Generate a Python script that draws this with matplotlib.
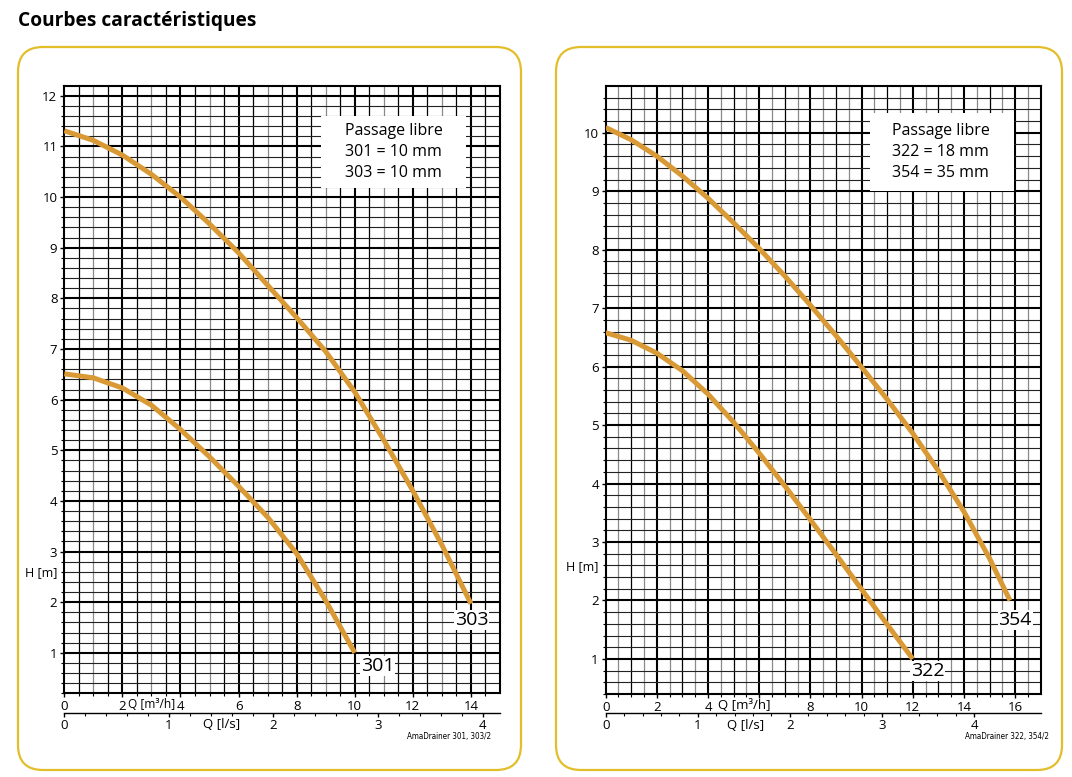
import numpy as np
import matplotlib
matplotlib.use("Agg")
import matplotlib.pyplot as plt
from matplotlib.patches import FancyBboxPatch, Rectangle

plt.rcParams['font.family'] = ['Open Sans', 'DejaVu Sans']

# curve data, Q in m3/h, H in m
q_303 = [0, 1, 2, 3, 4, 5, 6, 7, 8, 9, 10, 11, 12, 13, 14]
h_303 = [11.31, 11.12, 10.83, 10.45, 10.0, 9.47, 8.9, 8.26, 7.62, 6.95, 6.15, 5.2, 4.2, 3.13, 1.97]
q_301 = [0, 1, 2, 3, 4, 5, 6, 7, 8, 9, 10]
h_301 = [6.51, 6.43, 6.23, 5.89, 5.41, 4.87, 4.29, 3.68, 2.96, 2.03, 1.0]
q_322 = [0, 1, 2, 3, 4, 5, 6, 7, 8, 9, 10, 11, 12]
h_322 = [6.58, 6.45, 6.23, 5.93, 5.53, 5.05, 4.52, 3.96, 3.38, 2.79, 2.19, 1.59, 1.0]
q_354 = [0, 1, 2, 3, 4, 5, 6, 7, 8, 9, 10, 11, 12, 13, 14, 15, 15.8]
h_354 = [10.09, 9.88, 9.6, 9.26, 8.88, 8.46, 8.02, 7.55, 7.05, 6.53, 5.99, 5.44, 4.86, 4.22, 3.52, 2.72, 2.0]

left_box_lines = ["Passage libre", "301 = 10 mm", "303 = 10 mm"]
right_box_lines = ["Passage libre", "322 = 18 mm", "354 = 35 mm"]
left_xticklabels = ["0", "2", "4", "6", "8", "10", "12", "14"]
right_xticklabels = ["0", "2", "4", "", "8", "10", "12", "14", "16"]
ls_ticklabels = ["0", "1", "2", "3", "4"]

CURVE = '#D99A36'
PANEL = '#E3BE2B'
GRAY = '#8a8a8a'


def draw_grid(ax, xmax, ymin, ymax, odd_gray):
    # vertical lines every 0.5 m3/h
    for x in np.arange(0.5, xmax, 0.5):
        if x % 2 == 0:
            ax.axvline(x, color='black', lw=1.5, zorder=1)
        elif x % 1 == 0:
            ax.axvline(x, color=GRAY if odd_gray else 'black', lw=0.9, zorder=1)
        else:
            ax.axvline(x, color='black' if odd_gray else GRAY, lw=0.9, zorder=1)
    # horizontal lines every 0.2 m
    for y in np.arange(ymin + 0.2, ymax - 0.01, 0.2):
        y = round(y, 1)
        if abs(y - round(y)) < 1e-6:
            ax.axhline(y, color='black', lw=1.5, zorder=1)
        else:
            ax.axhline(y, color='#222222', lw=0.8, zorder=1)


def setup_axes(ax, xmax, ymin, ymax, xlabels, ymax_label, odd_gray, sec_loc):
    ax.set_xlim(0, xmax)
    ax.set_ylim(ymin, ymax)
    draw_grid(ax, xmax, ymin, ymax, odd_gray)
    for s in ax.spines.values():
        s.set_linewidth(1.5)
    ax.set_xticks(np.arange(0, 2 * len(xlabels), 2))
    ax.set_xticklabels(xlabels)
    ax.set_xticks(np.arange(0, xmax, 0.5), minor=True)
    ax.set_yticks(np.arange(1, ymax_label + 1))
    ax.set_yticks(np.arange(ymin, ymax, 0.2), minor=True)
    ax.tick_params(which='major', direction='out', length=3, width=1, labelsize=9.5, pad=2)
    ax.tick_params(which='minor', direction='out', length=2, width=0.8)
    sec = ax.secondary_xaxis(sec_loc, functions=(lambda q: q / 3.6, lambda l: l * 3.6))
    sec.set_xticks(range(len(ls_ticklabels)))
    sec.set_xticklabels(ls_ticklabels)
    sec.set_xticks(np.arange(0, 4.01, 0.2), minor=True)
    sec.tick_params(which='major', direction='out', length=3, width=1, labelsize=9.5, pad=1)
    sec.tick_params(which='minor', direction='out', length=2, width=0.8)
    sec.spines['bottom'].set_linewidth(1.0)
    return sec


def draw_curve(ax, q, h):
    ax.plot(q, h, color=CURVE, lw=3.6, solid_capstyle='butt', solid_joinstyle='round', zorder=3)


def curve_label(ax, x, y, s):
    ax.text(x, y, s, ha='center', va='center', fontsize=14, zorder=5,
            bbox=dict(facecolor='white', edgecolor='none', pad=0.5))


fig = plt.figure(figsize=(10.72, 7.77), dpi=100)

# rounded panels
for x0, w in ((0.18, 5.03), (5.56, 5.06)):
    fig.patches.append(FancyBboxPatch((x0, 0.07), w, 7.23, boxstyle="round,pad=0,rounding_size=0.25",
                                      transform=fig.dpi_scale_trans, fill=False,
                                      edgecolor=PANEL, lw=1.6))

fig.text(18 / 1072, 1 - 21 / 777, "Courbes caractéristiques", fontsize=13.8, fontweight='bold',
         va='center', ha='left')

# left chart
ax1 = fig.add_axes([0.06, 0.1077, 0.4064, 0.782])
setup_axes(ax1, 15, 0.2, 12.2, left_xticklabels, 12, True, -0.033)
draw_curve(ax1, q_303, h_303)
draw_curve(ax1, q_301, h_301)
ax1.add_patch(Rectangle((8.84, 10.18), 5.0, 1.42, facecolor='white', edgecolor='none', zorder=4))
ax1.text(11.34, 10.89, "\n".join(left_box_lines), ha='center', va='center', fontsize=11.5,
         linespacing=1.45, zorder=5)
curve_label(ax1, 14.03, 1.65, "303")
curve_label(ax1, 10.79, 0.74, "301")
ax1.text(3.02, -0.019, "Q [m³/h]", transform=ax1.get_xaxis_transform(), ha='center', va='center',
         fontsize=8.6)
ax1.text(5.42, -0.052, "Q [l/s]", transform=ax1.get_xaxis_transform(), ha='center', va='center',
         fontsize=9.5)
ax1.text(-0.052, 0.199, "H [m]", transform=ax1.transAxes, ha='center', va='center', fontsize=9)

# right chart
ax2 = fig.add_axes([0.565, 0.1068, 0.4058, 0.7825])
setup_axes(ax2, 17, 0.4, 10.8, right_xticklabels, 10, False, -0.0317)
draw_curve(ax2, q_354, h_354)
draw_curve(ax2, q_322, h_322)
ax2.add_patch(Rectangle((10.33, 9.0), 5.63, 1.34, facecolor='white', edgecolor='none', zorder=4))
ax2.text(13.1, 9.67, "\n".join(right_box_lines), ha='center', va='center', fontsize=11.5,
         linespacing=1.45, zorder=5)
curve_label(ax2, 16.0, 1.67, "354")
curve_label(ax2, 12.58, 0.79, "322")
ax2.text(5.4, -0.019, "Q [m³/h]", transform=ax2.get_xaxis_transform(), ha='center', va='center',
         fontsize=9.5)
ax2.text(5.45, -0.052, "Q [l/s]", transform=ax2.get_xaxis_transform(), ha='center', va='center',
         fontsize=9.5)
ax2.text(-0.055, 0.209, "H [m]", transform=ax2.transAxes, ha='center', va='center', fontsize=9)

# captions
cap_font = ['Liberation Sans Narrow', 'DejaVu Sans']
fig.text(491 / 1072, 1 - 736 / 777, "AmaDrainer 301, 303/2", ha='right', va='center', fontsize=5.8,
         family=cap_font, stretch='condensed')
fig.text(1049 / 1072, 1 - 737 / 777, "AmaDrainer 322, 354/2", ha='right', va='center', fontsize=5.8,
         family=cap_font, stretch='condensed')

fig.savefig("out.png", dpi=100)
